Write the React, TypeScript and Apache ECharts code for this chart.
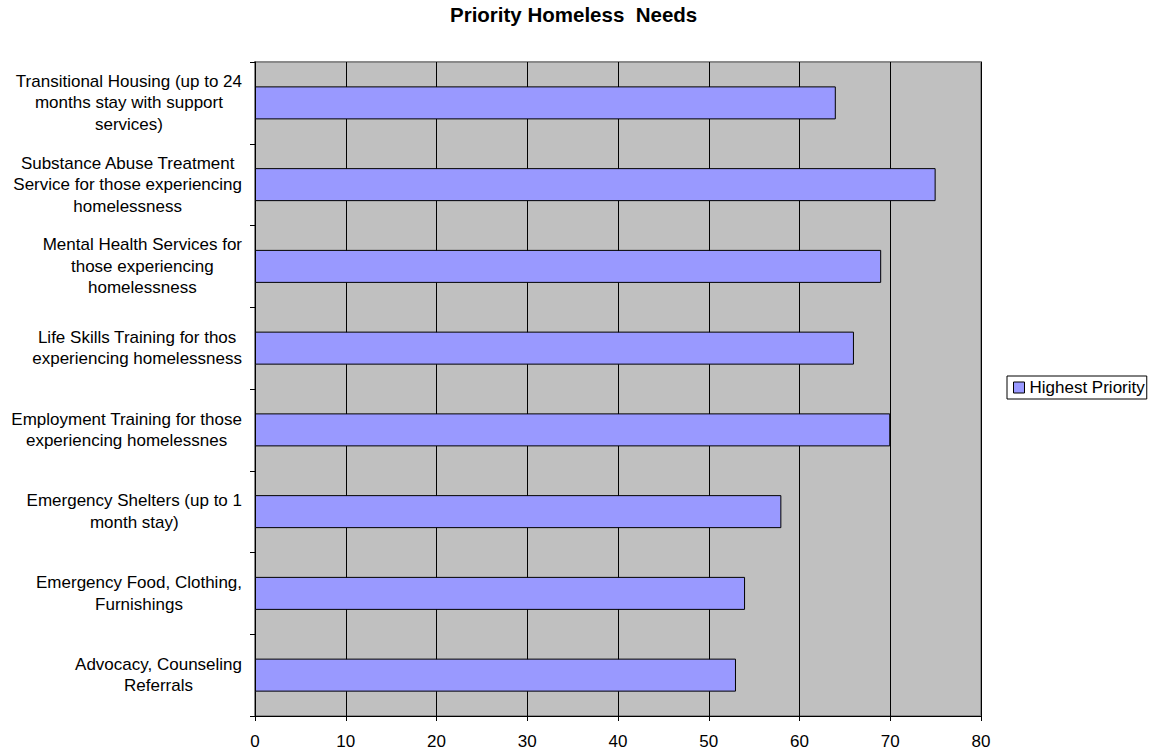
import React, { useEffect, useRef } from "react";
import * as echarts from "echarts";

// Needs, top to bottom, with the line breaks used in the axis labels
const categories: string[] = [
  "Transitional Housing (up to 24\nmonths stay with support\nservices)",
  "Substance Abuse Treatment\nService for those experiencing\nhomelessness",
  "Mental Health Services for\nthose experiencing\nhomelessness",
  "Life Skills Training for thos\nexperiencing homelessness",
  "Employment Training for those\nexperiencing homelessnes",
  "Emergency Shelters (up to 1\nmonth stay)",
  "Emergency Food, Clothing,\nFurnishings",
  "Advocacy, Counseling\nReferrals",
];

const highestPriority: number[] = [64, 75, 69, 66, 70, 58, 54, 53];

const seriesName = "Highest Priority";
const chartTitle = "Priority Homeless  Needs";

const FONT = "'Liberation Sans', Arial, Helvetica, sans-serif";

export default function App() {
  const ref = useRef<HTMLDivElement>(null);

  useEffect(() => {
    if (!ref.current) return;
    const chart = echarts.init(ref.current, null, { renderer: "svg" });
    chart.setOption({
      animation: false,
      backgroundColor: "#ffffff",
      textStyle: { fontFamily: FONT, color: "#000" },
      title: {
        text: chartTitle,
        left: 450,
        top: 4,
        padding: 0,
        textStyle: {
          fontFamily: FONT,
          fontSize: 20.5,
          fontWeight: "bold",
          color: "#000",
        },
      },
      legend: {
        data: [seriesName],
        left: 1007,
        top: 376,
        orient: "vertical",
        icon: "rect",
        itemWidth: 11,
        itemHeight: 11,
        padding: [3, 2, 3, 6],
        borderColor: "#000",
        borderWidth: 1,
        backgroundColor: "#fff",
        itemStyle: { color: "#9999ff", borderColor: "#000", borderWidth: 1 },
        textStyle: { fontFamily: FONT, fontSize: 17, color: "#000" },
      },
      grid: {
        left: 255,
        right: 173,
        top: 62,
        bottom: 36,
        show: true,
        backgroundColor: "#c0c0c0",
        borderColor: "#8a8a8a",
        borderWidth: 2,
      },
      xAxis: {
        type: "value",
        min: 0,
        max: 80,
        interval: 10,
        axisLine: { show: true, lineStyle: { color: "#000", width: 1 } },
        axisTick: { show: true, length: 5, lineStyle: { color: "#000" } },
        axisLabel: {
          fontFamily: FONT,
          fontSize: 17,
          color: "#000",
          margin: 17,
        },
        splitLine: { show: true, lineStyle: { color: "#000", width: 1 } },
      },
      yAxis: {
        type: "category",
        data: categories,
        inverse: true,
        axisLine: { show: true, lineStyle: { color: "#000", width: 1 } },
        axisTick: { show: true, length: 5, lineStyle: { color: "#000" } },
        splitLine: { show: false },
        axisLabel: {
          margin: 13,
          formatter: (v: string) =>
            v
              .split("\n")
              .map((line) => `{c|${line}}`)
              .join("\n"),
          rich: {
            c: {
              fontFamily: FONT,
              fontSize: 17,
              lineHeight: 21.5,
              color: "#000",
              align: "center",
            },
          },
        },
      },
      series: [
        {
          name: seriesName,
          type: "bar",
          data: highestPriority,
          barWidth: 33,
          itemStyle: {
            color: "#9999ff",
            borderColor: "#000",
            borderWidth: 1,
          },
        },
      ],
    });
    return () => chart.dispose();
  }, []);

  return (
    <div
      ref={ref}
      style={{ position: "absolute", left: 0, top: 0, width: 1154, height: 752 }}
    />
  );
}
